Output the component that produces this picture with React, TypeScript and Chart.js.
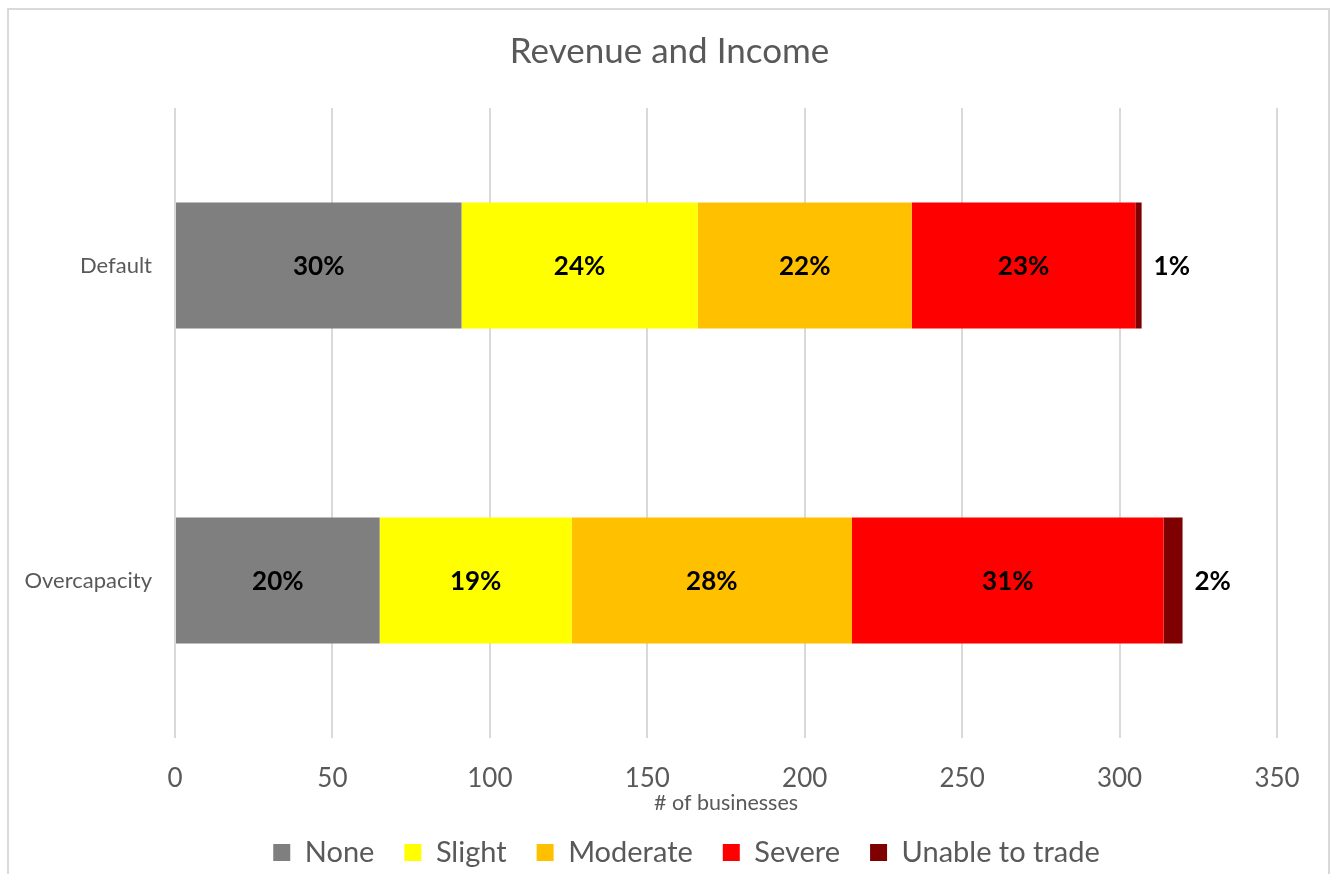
import React, { useEffect, useRef } from "react";
import { Chart, registerables } from "chart.js";

Chart.register(...registerables);

const categories = ["Default", "Overcapacity"];
const seriesNames = ["None", "Slight", "Moderate", "Severe", "Unable to trade"];
const noneValues = [91, 65];
const slightValues = [75, 61];
const moderateValues = [68, 89];
const severeValues = [71, 99];
const unableValues = [2, 6];
const seriesColors = ["#7f7f7f", "#ffff00", "#ffc000", "#ff0000", "#7f0000"];
const xTicks = [0, 50, 100, 150, 200, 250, 300, 350];

const FONT = "Lato, 'Open Sans', sans-serif";
const TEXT = "#595959";
const GRID = "#d9d9d9";

const borderPlugin = {
  id: "frame",
  beforeDraw(chart: any) {
    const ctx = chart.ctx;
    ctx.save();
    ctx.fillStyle = "#ffffff";
    ctx.fillRect(0, 0, chart.width, chart.height);
    ctx.strokeStyle = GRID;
    ctx.lineWidth = 2;
    ctx.strokeRect(8, 9, 1321, 900);
    ctx.restore();
  },
};

// shift title and legend so they're centred like the reference
const shiftPlugin = {
  id: "shiftBlocks",
  afterLayout(chart: any) {
    if (chart.titleBlock) {
      chart.titleBlock.left += 31;
      chart.titleBlock.right += 31;
    }
    if (chart.legend) {
      chart.legend.left += 48;
      chart.legend.right += 48;
    }
  },
};

const labelPlugin = {
  id: "pctLabels",
  afterDatasetsDraw(chart: any) {
    const ctx = chart.ctx;
    const ds = chart.data.datasets;
    const totals = categories.map((_, i) =>
      ds.reduce((s: number, d: any) => s + d.data[i], 0)
    );
    ctx.save();
    ctx.font = `bold 26px ${FONT}`;
    ctx.fillStyle = "#000000";
    ctx.textBaseline = "middle";
    ds.forEach((d: any, di: number) => {
      const meta = chart.getDatasetMeta(di);
      meta.data.forEach((el: any, i: number) => {
        const pct = Math.round((d.data[i] / totals[i]) * 100) + "%";
        if (di === ds.length - 1) {
          ctx.textAlign = "left";
          ctx.fillText(pct, el.x + 12, el.y + 1);
        } else {
          ctx.textAlign = "center";
          ctx.fillText(pct, (el.x + el.base) / 2, el.y + 1);
        }
      });
    });
    ctx.restore();
  },
};

export default function App() {
  const ref = useRef<HTMLCanvasElement>(null);
  useEffect(() => {
    document.body.style.margin = "0";
    const values = [noneValues, slightValues, moderateValues, severeValues, unableValues];
    const chart = new Chart(ref.current!, {
      type: "bar",
      data: {
        labels: categories,
        datasets: seriesNames.map((n, i) => ({
          label: n,
          data: values[i],
          backgroundColor: seriesColors[i],
          borderWidth: 0,
          barPercentage: 0.4,
          categoryPercentage: 1,
        })),
      },
      options: {
        indexAxis: "y",
        responsive: false,
        animation: false,
        layout: { padding: { left: 0, right: 57, top: 0, bottom: 0 } },
        plugins: {
          tooltip: { enabled: false },
          title: {
            display: true,
            text: "Revenue and Income",
            color: TEXT,
            font: { family: FONT, size: 35, weight: "normal" },
            padding: { top: 31, bottom: 35 },
          },
          legend: {
            position: "bottom",
            maxHeight: 66,
            labels: {
              color: TEXT,
              font: { family: FONT, size: 29 },
              boxWidth: 17,
              boxHeight: 17,
              padding: 30,
            },
          },
        },
        scales: {
          x: {
            stacked: true,
            min: 0,
            max: 350,
            afterBuildTicks(scale: any) {
              scale.ticks = xTicks.map((v) => ({ value: v }));
            },
            afterFit(scale: any) {
              scale.height = 70;
            },
            grid: { color: GRID, lineWidth: 2, drawTicks: false },
            border: { display: false },
            ticks: {
              color: TEXT,
              font: { family: FONT, size: 26 },
              padding: 25,
            },
            title: {
              display: true,
              text: "# of businesses",
              color: TEXT,
              font: { family: FONT, size: 21.5, lineHeight: 0.5 },
              padding: { top: 0, bottom: 0 },
            },
          },
          y: {
            stacked: true,
            afterFit(scale: any) {
              scale.width = 175;
            },
            grid: { display: false, drawTicks: false },
            border: { display: false },
            ticks: {
              color: TEXT,
              font: { family: FONT, size: 22 },
              padding: 23,
            },
          },
        },
      },
      plugins: [borderPlugin, shiftPlugin, labelPlugin],
    } as any);
    return () => chart.destroy();
  }, []);
  return (
    <canvas
      ref={ref}
      width={1334}
      height={874}
      style={{ position: "absolute", left: 0, top: 0, width: 1334, height: 874 }}
    />
  );
}
